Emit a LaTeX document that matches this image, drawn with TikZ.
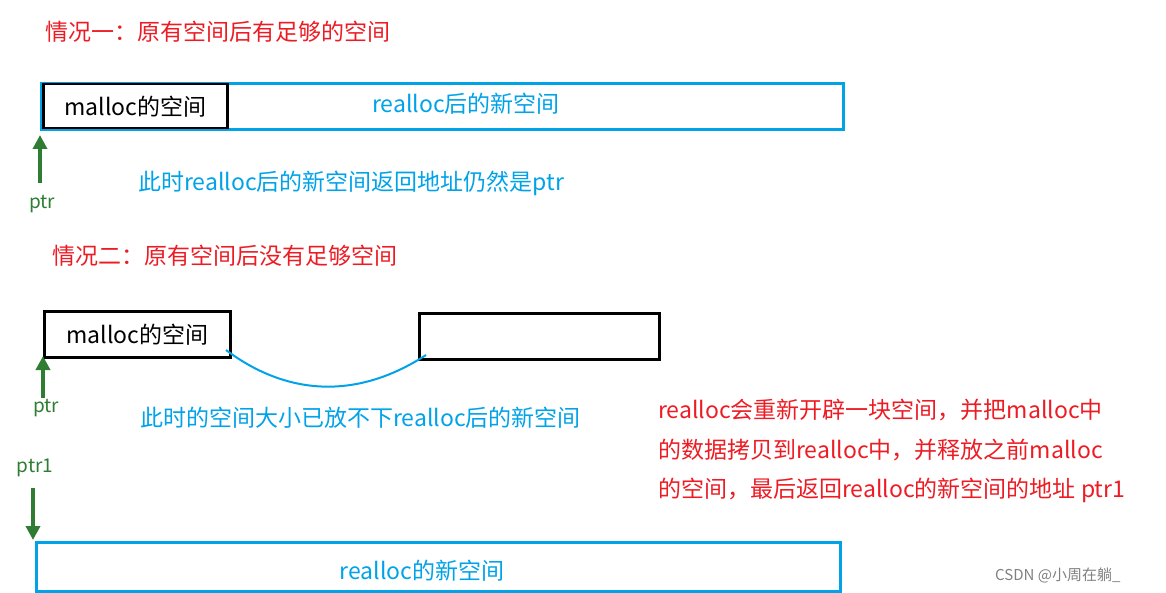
\documentclass[tikz,border=0pt]{standalone}
\usepackage{fontspec}
\setmainfont{Noto Sans CJK SC}
\usetikzlibrary{arrows.meta}
\definecolor{cred}{RGB}{237,28,36}
\definecolor{cblue}{RGB}{0,162,232}
\definecolor{cgreen}{RGB}{46,125,50}
\tikzset{
 red txt/.style={text=cred,font=\fontsize{23}{26}\selectfont,inner sep=0,anchor=west},
 blue txt/.style={text=cblue,font=\fontsize{23}{26}\selectfont,inner sep=0},
 black txt/.style={text=black,font=\fontsize{23}{26}\selectfont,inner sep=0},
 green txt/.style={text=cgreen,font=\fontsize{19}{22}\selectfont,inner sep=0},
 bluebox/.style={draw=cblue,line width=3pt},
 blackbox/.style={draw=black,line width=2.5pt},
 ptrarrow/.style={draw=cgreen,line width=3.5pt,-{Triangle[length=14pt,width=14pt]}}
}
\begin{document}
\begin{tikzpicture}[x=1pt,y=-1pt]
\useasboundingbox (0,0) rectangle (1166,593);
\node[red txt] (t1) at (45,32) {情况一：原有空间后有足够的空间};
\node[bluebox,minimum width=802pt,minimum height=46pt,anchor=north west] (b1) at (40,82) {};
\node[blackbox,minimum width=184pt,minimum height=44pt,anchor=north west,black txt] (m1) at (42,83) {malloc的空间};
\node[blue txt] (n1) at (466,104) {realloc后的新空间};
\coordinate (p1s) at (40,183);
\draw[ptrarrow] (p1s) -- (40,135);
\node[green txt] (ptr0) at (42,204) {ptr};
\node[blue txt,anchor=west] (d1) at (138,183) {此时realloc后的新空间返回地址仍然是ptr};

\node[red txt] (t2) at (52,256) {情况二：原有空间后没有足够空间};
\node[blackbox,minimum width=186pt,minimum height=46pt,anchor=north west,black txt] (m2) at (43,310) {malloc的空间};
\node[blackbox,minimum width=240pt,minimum height=46pt,anchor=north west] (e2) at (418,312) {};
\coordinate (c1) at (226,350);
\coordinate (c2) at (426,355);
\draw[cblue,line width=2pt] (c1) .. controls (290,398) and (360,398) .. (c2);
\coordinate (p2s) at (43,398);
\draw[ptrarrow] (p2s) -- (43,356);
\node[green txt] (ptr2) at (46,408) {ptr};
\node[blue txt,anchor=west] (d2) at (140,418) {此时的空间大小已放不下realloc后的新空间};
\node[green txt] (ptr1) at (35,468) {ptr1};
\coordinate (p3s) at (33,488);
\draw[ptrarrow] (p3s) -- (33,540);
\node[bluebox,minimum width=804pt,minimum height=49pt,anchor=north west] (b3) at (35,541) {};
\node[blue txt] (n3) at (422,571) {realloc的新空间};
\node[red txt] (r1) at (658,410) {realloc会重新开辟一块空间，并把malloc中};
\node[red txt] (r2) at (658,450) {的数据拷贝到realloc中，并释放之前malloc};
\node[red txt] (r3) at (658,490) {的空间，最后返回realloc的新空间的地址 ptr1};
\node[text=gray,font=\fontsize{15}{17}\selectfont,inner sep=0,anchor=west] (wm) at (995,575) {CSDN @小周在躺\_};
\end{tikzpicture}
\end{document}
